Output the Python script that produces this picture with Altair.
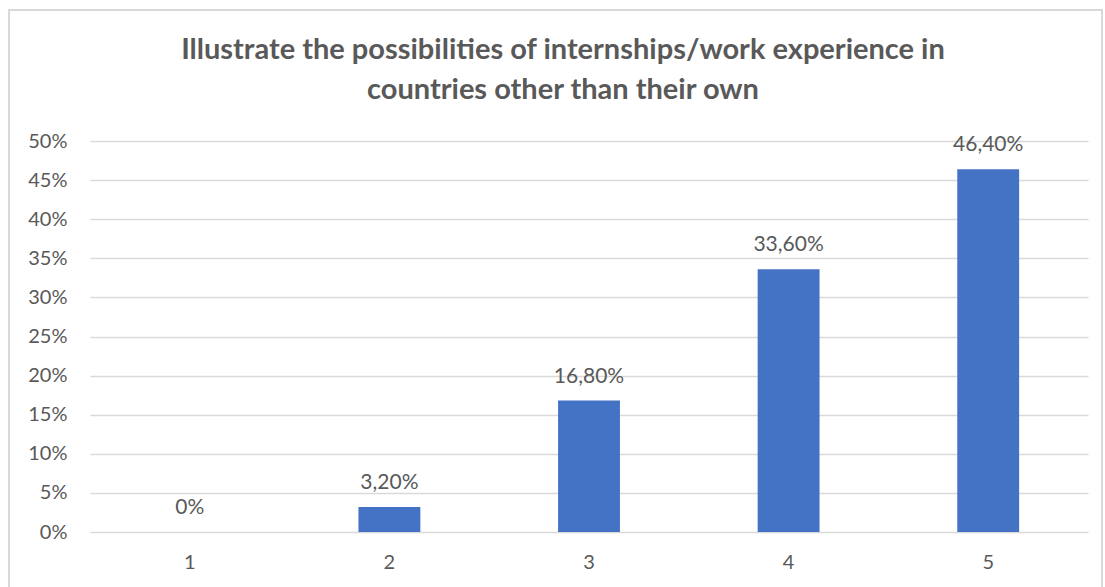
import altair as alt
import pandas as pd

categories = ["1", "2", "3", "4", "5"]
values = [0.0, 0.032, 0.168, 0.336, 0.464]
labels = ["0%", "3,20%", "16,80%", "33,60%", "46,40%"]
y_ticks = [0, 0.05, 0.10, 0.15, 0.20, 0.25, 0.30, 0.35, 0.40, 0.45, 0.50]

df = pd.DataFrame({"cat": categories, "val": values, "label": labels})

FONT = "Lato"
GREY = "#595959"

x = alt.X("cat:N", sort=categories, title=None,
          scale=alt.Scale(paddingInner=0.69, paddingOuter=0.345),
          axis=alt.Axis(labelAngle=0, labelFontSize=20, labelColor=GREY, labelFont=FONT,
                        ticks=False, domain=False, labelPadding=20, grid=False))
y = alt.Y("val:Q", title=None,
          scale=alt.Scale(domain=[0, 0.5], nice=False),
          axis=alt.Axis(values=y_ticks, format=".0%", labelFontSize=20, labelColor=GREY,
                        labelFont=FONT, ticks=False, domain=False, labelPadding=23,
                        labelOverlap=False, gridColor="#D9D9D9", gridWidth=1.3))

bars = alt.Chart(df).mark_bar(color="#4472C4").encode(x=x, y=y)
text = alt.Chart(df).mark_text(baseline="bottom", dy=-14, fontSize=21, color=GREY, font=FONT).encode(
    x=x, y=y, text="label:N")

frame = alt.Chart(df).mark_rect(fill=None, stroke="#D9D9D9", strokeWidth=1.5).encode(
    x=alt.value(-81), x2=alt.value(1012), y=alt.value(-131), y2=alt.value(460))

chart = alt.layer(frame, bars, text).properties(
    width=998, height=391,
    background="white",
    title=alt.TitleParams(
        ["Illustrate the possibilities of internships/work experience in",
         "countries other than their own"],
        fontSize=29, fontWeight="bold", color=GREY, font=FONT, anchor="middle",
        offset=-96, lineHeight=40, dx=-26),
    autosize=alt.AutoSizeParams(type="none"),
    padding={"left": 90, "top": 141, "right": 17, "bottom": 55},
).configure_view(stroke="transparent", strokeWidth=0)

chart.save("out.html", embed_options={"renderer": "svg", "actions": False})
